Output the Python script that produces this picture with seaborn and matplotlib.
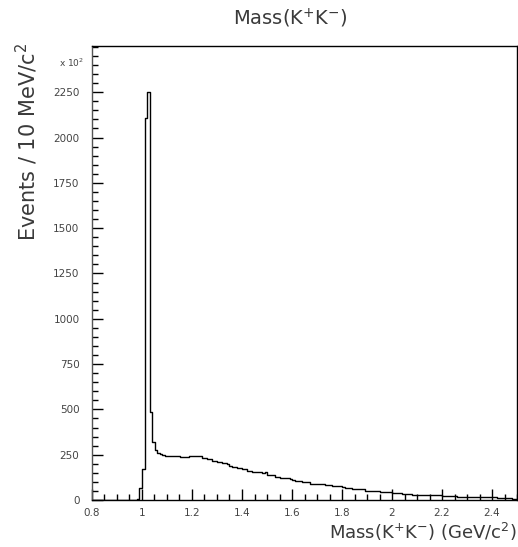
import numpy as np
import pandas as pd
import matplotlib
matplotlib.use("Agg")
import matplotlib.pyplot as plt
import seaborn as sns
from matplotlib.ticker import MultipleLocator, FixedLocator, FuncFormatter

# ---- data: 10 MeV bins from 0.80 to 2.50 GeV ----
bin_lo = 0.80
bin_hi = 2.50
bin_width = 0.01
counts = [
    0, 0, 0, 0, 0, 0, 0, 0, 0, 0,                 # 0.80
    0, 0, 0, 0, 0, 0, 0, 0, 5, 66,                # 0.90
    170, 2110, 2252, 485, 322, 276, 262, 252, 246, 244,   # 1.00
    243, 243, 242, 241, 241, 240, 240, 235, 235, 243,     # 1.10
    243, 243, 242, 241, 230, 230, 224, 224, 217, 217,     # 1.20
    208, 208, 202, 202, 196, 189, 184, 184, 175, 175,     # 1.30
    169, 169, 160, 160, 153, 153, 153, 152, 147, 153,     # 1.40
    138, 138, 137, 129, 129, 123, 123, 120, 120, 116,     # 1.50
    110, 107, 107, 106, 98, 98, 97, 90, 90, 89,           # 1.60
    88, 86, 86, 85, 84, 84, 78, 77, 77, 76,               # 1.70
    69, 68, 68, 67, 62, 61, 61, 60, 60, 52,               # 1.80
    51, 51, 50, 50, 47, 46, 46, 45, 45, 45,               # 1.90
    40, 40, 40, 36, 35, 35, 35, 35, 30, 30,               # 2.00
    29, 29, 29, 29, 28, 28, 28, 28, 28, 25,               # 2.10
    24, 24, 24, 24, 23, 23, 19, 18, 18, 18,               # 2.20
    18, 18, 18, 17, 17, 17, 17, 17, 17, 16,               # 2.30
    15, 15, 10, 9, 9, 9, 9, 9, 8, 8,                      # 2.40
]
y_tick_values = [0, 250, 500, 750, 1000, 1250, 1500, 1750, 2000, 2250]
x_tick_values = [0.8, 1.0, 1.2, 1.4, 1.6, 1.8, 2.0, 2.2, 2.4]
title_text = r"Mass(K$^{\mathregular{+}}$K$^{\mathregular{-}}$)"
xlabel_text = r"Mass(K$^{\mathregular{+}}$K$^{\mathregular{-}}$) (GeV/c$^{\mathregular{2}}$)"
ylabel_text = r"Events / 10 MeV/c$^{\mathregular{2}}$"
scale_text = r"x 10$^{\mathregular{2}}$"

n_bins = len(counts)
edges = [float(e) for e in np.linspace(bin_lo, bin_hi, n_bins + 1)]
centers = [0.5 * (edges[i] + edges[i + 1]) for i in range(n_bins)]
df = pd.DataFrame({"mass": centers, "events": np.asarray(counts, dtype=float)})

sns.set_style("white")
plt.rcParams['font.family'] = ['DejaVu Sans']
plt.rcParams['mathtext.default'] = 'regular'

fig = plt.figure(figsize=(5.18, 5.47), dpi=100)
ax = fig.add_axes([92 / 518, 1 - 500 / 547, 425 / 518, 454 / 547])

sns.histplot(data=df, x="mass", weights="events", bins=edges, element="step",
             fill=False, color="black", linewidth=1.0, ax=ax)

ax.set_xlim(0.8, 2.5)
ax.set_ylim(0, 2505)

ax.xaxis.set_major_locator(FixedLocator(x_tick_values))
ax.xaxis.set_minor_locator(MultipleLocator(0.05))
ax.yaxis.set_major_locator(FixedLocator(y_tick_values))
ax.yaxis.set_minor_locator(MultipleLocator(50))
ax.xaxis.set_major_formatter(FuncFormatter(lambda v, p: f"{v:g}"))
ax.yaxis.set_major_formatter(FuncFormatter(lambda v, p: f"{v:g}"))

ax.tick_params(axis="both", which="both", direction="in", colors="black",
               labelcolor="#444444", labelsize=7.5)
ax.tick_params(axis="both", which="major", length=8, width=1)
ax.tick_params(axis="both", which="minor", length=4, width=1)
ax.tick_params(axis="x", which="both", top=False, bottom=True, pad=6)
ax.tick_params(axis="y", which="both", right=False, left=True, pad=9)

for s in ["left", "bottom", "top", "right"]:
    ax.spines[s].set_visible(True)
    ax.spines[s].set_color("black")
    ax.spines[s].set_linewidth(1.0)
ax.spines["left"].set_color("#555555")

ax.set_xlabel("")
ax.set_ylabel("")

fig.text(290 / 518, 1 - 18 / 547, title_text, ha="center", va="center",
         fontsize=14, color="#3a3a3a")
fig.text(517 / 518, 1 - 532 / 547, xlabel_text, ha="right", va="center",
         fontsize=13, color="#3a3a3a")
fig.text(27 / 518, 1 - 43 / 547, ylabel_text, ha="center", va="top",
         rotation=90, fontsize=15, color="#3a3a3a")
fig.text(84 / 518, 1 - 63 / 547, scale_text, ha="right", va="center",
         fontsize=6.5, color="#444444")

fig.savefig("out.png", dpi=100)
